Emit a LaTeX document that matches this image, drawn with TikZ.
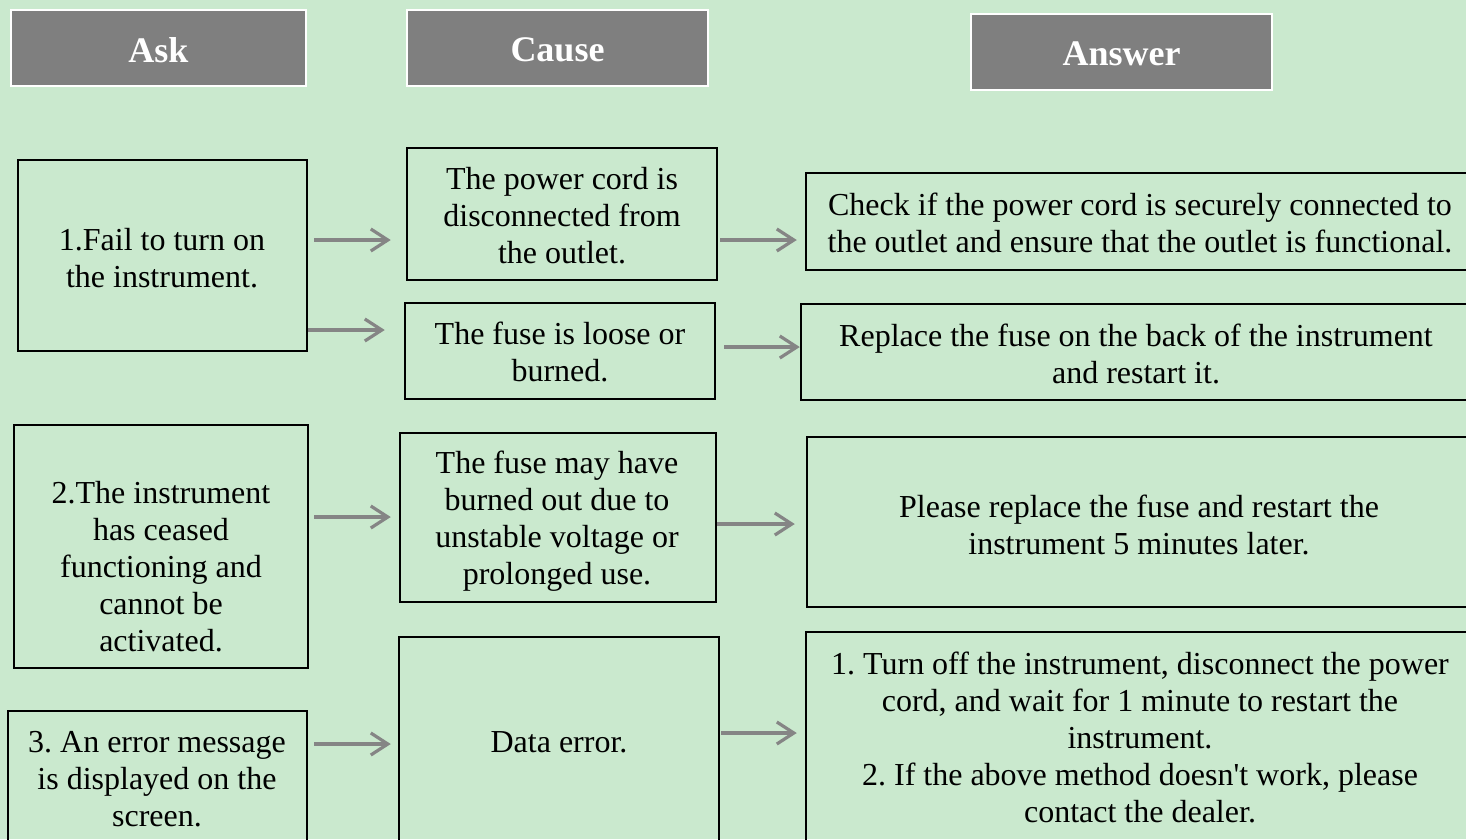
\documentclass[tikz,border=0pt]{standalone}
\usepackage{fontspec}
\setmainfont{Liberation Serif}
\usetikzlibrary{arrows.meta}
\definecolor{bg}{RGB}{202,233,206}
\definecolor{hdr}{RGB}{127,127,127}
\definecolor{arrc}{RGB}{133,133,133}
\frenchspacing
\tikzset{
  box/.style={draw=black, line width=2.5pt, rectangle, inner sep=0pt},
  hbox/.style={draw=white, line width=2pt, fill=hdr, rectangle, inner sep=0pt, minimum width=#1, minimum height=76pt},
  htxt/.style={text=white, font=\fontsize{36}{40}\selectfont\bfseries, inner sep=0pt},
  txt/.style={align=center, font=\fontsize{32}{37}\selectfont, inner sep=0pt},
  arr/.style={draw=arrc, line width=3.2pt, -{Straight Barb[length=17pt,width=22pt,line width=3.2pt]}}
}
\begin{document}
\begin{tikzpicture}[x=1pt,y=-1pt]
\useasboundingbox (0,0) rectangle (1466,839);
\fill[bg] (0,0) rectangle (1466,839);
\clip (0,0) rectangle (1466,839);
% headers
\node[hbox=295pt] (h1) at (158.5,48) {};
\node[htxt] (h1t) at (158.5,50) {Ask};
\node[hbox=301pt] (h2) at (557.5,48) {};
\node[htxt] (h2t) at (557.5,50) {Cause};
\node[hbox=301pt] (h3) at (1121.5,52) {};
\node[htxt] (h3t) at (1121.5,54) {Answer};
% ask column
\node[box, minimum width=289pt, minimum height=191pt] (a1) at (162.5,255.5) {};
\node[txt] (a1t) at (162,258) {1.Fail to turn on\\the instrument.};
\node[box, minimum width=294pt, minimum height=243pt] (a2) at (161,546.5) {};
\node[txt] (a2t) at (161,567) {2.The instrument\\has ceased\\functioning and\\cannot be\\activated.};
\node[box, minimum width=299pt, minimum height=139pt] (a3) at (157.5,780.5) {};
\node[txt] (a3t) at (157,779.5) {3. An error message\\is displayed on the\\screen.};
% cause column
\node[box, minimum width=310pt, minimum height=132pt] (c1) at (562,214) {};
\node[txt] (c1t) at (562,216) {The power cord is\\disconnected from\\the outlet.};
\node[box, minimum width=310pt, minimum height=96pt] (c2) at (560,351) {};
\node[txt] (c2t) at (560,352) {The fuse is loose or\\burned.};
\node[box, minimum width=316pt, minimum height=169pt] (c3) at (558,517.5) {};
\node[txt] (c3t) at (557,521.5) {The fuse may have\\burned out due to\\unstable voltage or\\prolonged use.};
\node[box, minimum width=320pt, minimum height=213pt] (c4) at (559,743.5) {};
\node[txt] (c4t) at (559,742.5) {Data error.};
% answer column
\node[box, minimum width=674pt, minimum height=97pt] (r1) at (1143,221.5) {};
\node[txt] (r1t) at (1140,223) {Check if the power cord is securely connected to\\the outlet and ensure that the outlet is functional.};
\node[box, minimum width=679pt, minimum height=96pt] (r2) at (1140.5,352) {};
\node[txt] (r2t) at (1136,354) {Replace the fuse on the back of the instrument\\and restart it.};
\node[box, minimum width=673pt, minimum height=170pt] (r3) at (1143.5,522) {};
\node[txt] (r3t) at (1139,524.5) {Please replace the fuse and restart the\\instrument 5 minutes later.};
\node[box, minimum width=674pt, minimum height=218pt] (r4) at (1143,741) {};
\node[txt] (r4t) at (1140,737.5) {1. Turn off the instrument, disconnect the power\\cord, and wait for 1 minute to restart the\\instrument.\\2. If the above method doesn\textquotesingle t work, please\\contact the dealer.};
% arrows
\draw[arr] ([xshift=6pt]a1.east |- 0,240) -- ([xshift=-15pt]c1.west |- 0,240);
\draw[arr] ([xshift=0pt]a1.east |- 0,330) -- ([xshift=-19pt]c2.west |- 0,330);
\draw[arr] ([xshift=5pt]a2.east |- 0,517) -- ([xshift=-8pt]c3.west |- 0,517);
\draw[arr] ([xshift=6pt]a3.east |- 0,744) -- ([xshift=-7pt]c4.west |- 0,744);
\draw[arr] ([xshift=2pt]c1.east |- 0,240) -- ([xshift=-8pt]r1.west |- 0,240);
\draw[arr] ([xshift=8pt]c2.east |- 0,347) -- ([xshift=0pt]r2.west |- 0,347);
\draw[arr] ([xshift=0pt]c3.east |- 0,524) -- ([xshift=-11pt]r3.west |- 0,524);
\draw[arr] ([xshift=1pt]c4.east |- 0,733) -- ([xshift=-8pt]r4.west |- 0,733);
\end{tikzpicture}
\end{document}
